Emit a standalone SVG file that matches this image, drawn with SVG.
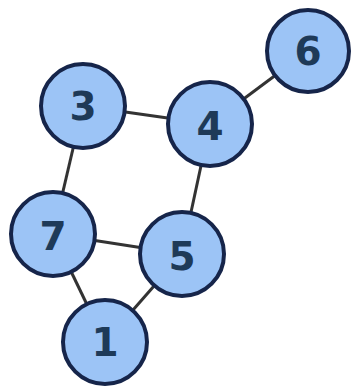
<svg xmlns="http://www.w3.org/2000/svg" width="351" height="387" viewBox="0 0 351 387">
<style>
.node circle{fill:#9cc4f6;stroke:#16254a;stroke-width:4}
.node text{font-family:"DejaVu Sans",sans-serif;font-size:39px;font-weight:bold;fill:#1e3a58;text-anchor:middle;dominant-baseline:central}
.edges line{stroke:#333333;stroke-width:3}
</style>
<rect width="351" height="387" fill="#ffffff"/>
<g class="edges">
<line x1="83" y1="106" x2="210" y2="124"/>
<line x1="210" y1="124" x2="308" y2="51"/>
<line x1="83" y1="106" x2="53" y2="234"/>
<line x1="210" y1="124" x2="182" y2="254"/>
<line x1="53" y1="234" x2="182" y2="254"/>
<line x1="53" y1="234" x2="105" y2="342"/>
<line x1="182" y1="254" x2="105" y2="342"/>
</g>
<g id="node6" class="node"><circle cx="308" cy="51" r="41"/><text x="308" y="51">6</text></g>
<g id="node3" class="node"><circle cx="83" cy="106" r="42"/><text x="83" y="106">3</text></g>
<g id="node4" class="node"><circle cx="210" cy="124" r="42"/><text x="210" y="126">4</text></g>
<g id="node7" class="node"><circle cx="53" cy="234" r="42"/><text x="53" y="236">7</text></g>
<g id="node5" class="node"><circle cx="182" cy="254" r="42"/><text x="182" y="256">5</text></g>
<g id="node1" class="node"><circle cx="105" cy="342" r="42"/><text x="105" y="342">1</text></g>
</svg>
